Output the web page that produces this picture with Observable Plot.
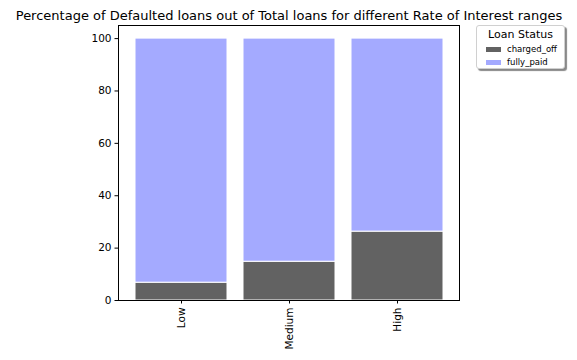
<!DOCTYPE html>
<html>
<head>
<meta charset="utf-8">
<script src="https://cdn.jsdelivr.net/npm/d3@7"></script>
<script src="https://cdn.jsdelivr.net/npm/@observablehq/plot@0.6"></script>
<style>
  html, body { margin: 0; padding: 0; background: #fff; }
  #wrap { position: relative; width: 577px; height: 360px; font-family: "DejaVu Sans", sans-serif; }
  #legend { position: absolute; left: 476px; top: 25px; width: 89px; height: 44px; border: 1px solid #d0d0d0; border-radius: 3px; background: #fff; box-shadow: 2px 2px 1px #888; box-sizing: border-box; color: #000; }
  #legend .ttl { position: absolute; left: 0; right: 0; top: 2px; text-align: center; font-size: 11px; line-height: 13px; }
  #legend .row { position: absolute; left: 9px; display: flex; align-items: center; height: 12px; font-size: 8.5px; }
  #legend .sw { width: 15px; height: 5px; margin-right: 6px; }
</style>
</head>
<body>
<div id="wrap"><div id="legend"></div></div>
<script>
const categories = ["Low", "Medium", "High"];
const chargedOff = [6.8, 14.8, 26.3];
const fullyPaid = [93.2, 85.2, 73.7];
const statuses = ["charged_off", "fully_paid"];
const colors = ["#626262", "#a4aaff"];
const yTicks = [0, 20, 40, 60, 80, 100];
const titleText = "Percentage of Defaulted loans out of Total loans for different Rate of Interest ranges";
const legendTitle = "Loan Status";

const data = [];
categories.forEach((c, i) => {
  data.push({cat: c, status: statuses[0], value: chargedOff[i]});
  data.push({cat: c, status: statuses[1], value: fullyPaid[i]});
});

const chart = Plot.plot({
  width: 577,
  height: 360,
  marginLeft: 118,
  marginRight: 118,
  marginTop: 25,
  marginBottom: 60,
  style: {fontFamily: "DejaVu Sans, sans-serif", fontSize: "10.5px", color: "#000", background: "#fff"},
  x: {domain: categories, paddingInner: 0.15, paddingOuter: 0.1425, label: null, tickSize: 3.5, tickPadding: 3.5, tickRotate: -90},
  y: {domain: [0, 105], ticks: yTicks, label: null, tickSize: 3.5, tickPadding: 3.5},
  color: {domain: statuses, range: colors},
  marks: [
    Plot.barY(data, Plot.stackY({x: "cat", y: "value", fill: "status", stroke: "white", strokeWidth: 1, order: statuses, inset: 0})),
    Plot.frame({stroke: "black"}),
    Plot.text([titleText], {frameAnchor: "top", lineAnchor: "bottom", dy: -6, fontSize: 13, text: d => d})
  ]
});
document.getElementById("wrap").prepend(chart);

const lg = document.getElementById("legend");
lg.innerHTML = `<div class="ttl">${legendTitle}</div>` + statuses.map((s, i) =>
  `<div class="row" style="top:${17 + i * 13}px"><div class="sw" style="background:${colors[i]}"></div><span>${s}</span></div>`).join("");
</script>
</body>
</html>
